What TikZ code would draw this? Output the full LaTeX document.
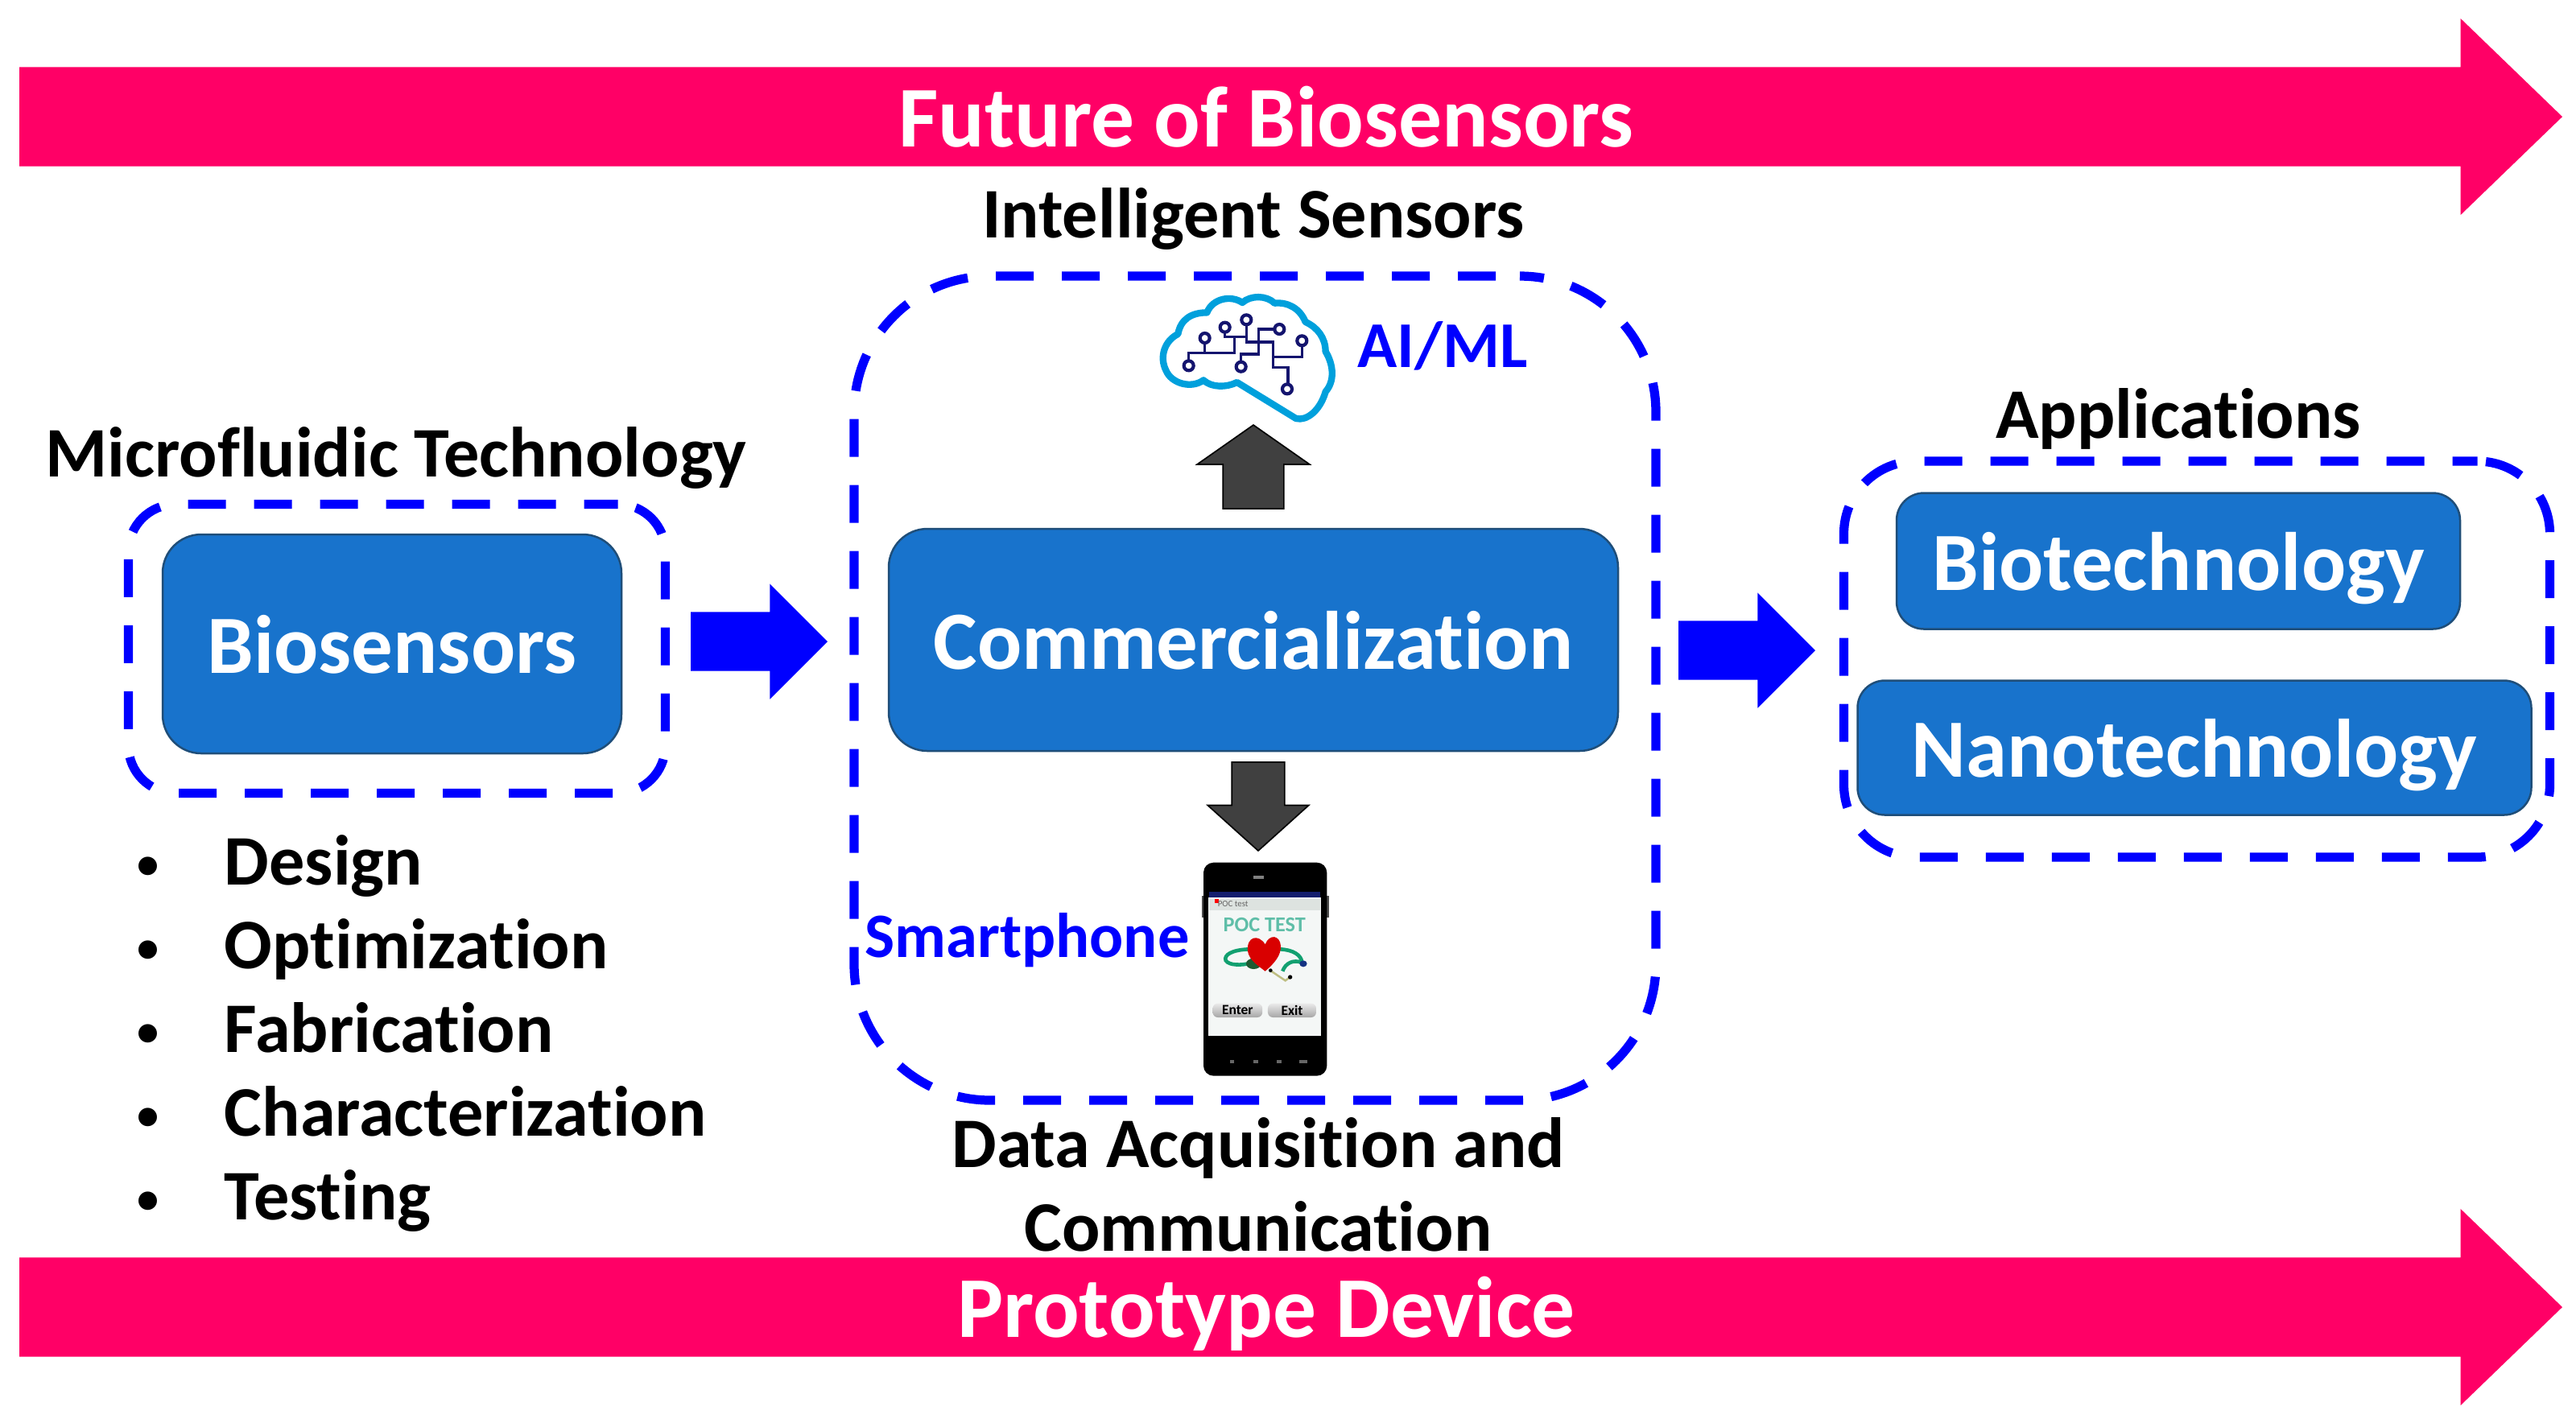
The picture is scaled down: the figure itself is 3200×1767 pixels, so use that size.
\documentclass[tikz,border=0pt]{standalone}
\usepackage{fontspec}
\setmainfont{Carlito}[Ligatures=CommonOff]
\usetikzlibrary{shapes.arrows}
\newcommand{\unitpx}{0.24pt}
\tikzset{every picture/.style={line width=0.75pt}}
\tikzset{
  pinkarrow/.style={single arrow,anchor=tail,fill={rgb, 255:red, 255; green, 0; blue, 102 },inner sep=60*\unitpx,outer sep=0pt,minimum width=241*\unitpx,single arrow head extend=60.5*\unitpx,single arrow tip angle=88},
  bluearrow/.style={single arrow,anchor=tail,fill={rgb, 255:red, 0; green, 0; blue, 255 },inner sep=35*\unitpx,outer sep=0pt,minimum width=140*\unitpx,minimum height=170*\unitpx,single arrow head extend=35*\unitpx,single arrow tip angle=90},
  grayarrow/.style={single arrow,anchor=tail,draw={rgb, 255:red, 0; green, 0; blue, 0 },fill={rgb, 255:red, 64; green, 64; blue, 64 },outer sep=0pt,line width=0.4pt},
  bluebox/.style={draw={rgb, 255:red, 31; green, 78; blue, 121 },fill={rgb, 255:red, 24; green, 115; blue, 204 },line width=0.6pt,inner sep=0pt,outer sep=0pt,text depth=0pt,text={rgb, 255:red, 255; green, 255; blue, 255 },font=\fontsize{24.7}{28}\selectfont\bfseries},
  groupbox/.style={draw={rgb, 255:red, 0; green, 0; blue, 255 },line width=2.7pt,inner sep=0pt,outer sep=0pt},
  headtext/.style={inner sep=0pt,font=\fontsize{21.2}{25}\selectfont\bfseries,align=center},
  bluetext/.style={inner sep=0pt,font=\fontsize{19.5}{25}\selectfont\bfseries,text={rgb, 255:red, 0; green, 0; blue, 255 }},
  listtext/.style={anchor=west,inner sep=0pt,text height=14pt,text depth=4pt,font=\fontsize{21.2}{25}\selectfont\bfseries},
  arrowtext/.style={inner sep=0pt,text depth=0pt,text={rgb, 255:red, 255; green, 255; blue, 255 },font=\fontsize{25.8}{28}\selectfont\bfseries},
  brainline/.style={draw={rgb, 255:red, 0; green, 160; blue, 220 },line width=2pt,line join=round},
  chipline/.style={draw={rgb, 255:red, 20; green, 20; blue, 110 },line width=0.8pt},
  chipdot/.style={draw={rgb, 255:red, 20; green, 20; blue, 110 },line width=1pt,fill=white}
}
\newcommand{\listdot}{\makebox[26pt][l]{\fontsize{13}{13}\selectfont\raisebox{2pt}{•}}}
\begin{document}
\begin{tikzpicture}[x=0.24pt,y=0.24pt,yscale=-1,xscale=1]
\useasboundingbox (0,0) rectangle (3200,1767);
%Shape: Right Arrow [top]
\node (futurearrow) [pinkarrow,minimum height=3159*\unitpx] at (24,145) {};
%Shape: Right Arrow [bottom]
\node (prototypearrow) [pinkarrow,minimum height=3159*\unitpx] at (24,1624) {};
%Rounded Rect: groups
\node (biogroup) [groupbox,rounded corners=59*\unitpx,dash pattern=on 47*\unitpx off 35*\unitpx,dash phase=5*\unitpx,minimum width=667*\unitpx,minimum height=359*\unitpx] at (493,806) {};
\node (sensorgroup) [groupbox,rounded corners=169*\unitpx,dash pattern=on 47*\unitpx off 35*\unitpx,dash phase=52*\unitpx,minimum width=996*\unitpx,minimum height=1024*\unitpx] at (1559,855) {};
\node (appgroup) [groupbox,rounded corners=90*\unitpx,dash pattern=on 47*\unitpx off 35*\unitpx,dash phase=16*\unitpx,minimum width=877*\unitpx,minimum height=492*\unitpx] at (2729,819) {};
%Rounded Rect: boxes
\node (biosensors) [bluebox,rounded corners=48*\unitpx,minimum width=570*\unitpx,minimum height=272*\unitpx] at (487,800) {Biosensors};
\node (commercial) [bluebox,rounded corners=48*\unitpx,minimum width=906*\unitpx,minimum height=276*\unitpx] at (1557,795) {Commercialization};
\node (biotech) [bluebox,rounded corners=34*\unitpx,minimum width=700*\unitpx,minimum height=169*\unitpx] at (2706,697) {Biotechnology};
\node (nanotech) [bluebox,rounded corners=34*\unitpx,minimum width=837*\unitpx,minimum height=167*\unitpx] at (2726,929) {Nanotechnology};
%Shape: Right Arrow [blue]
\node (bluearrowa) [bluearrow] at (858,797) {};
\node (bluearrowb) [bluearrow] at (2085,808) {};
%Shape: Up and Down Arrow [gray]
\node (upperarrow) [grayarrow,shape border rotate=90,inner sep=37*\unitpx,minimum width=134*\unitpx,minimum height=104*\unitpx,single arrow head extend=32*\unitpx,single arrow tip angle=110] at (1557,632) {};
\node (lowerarrow) [grayarrow,shape border rotate=270,inner sep=32*\unitpx,minimum width=124*\unitpx,minimum height=110*\unitpx,single arrow head extend=30*\unitpx,single arrow tip angle=96] at (1563,947) {};
%Brain
\begin{scope}[shift={(1380,340)},scale=0.3333]
\path [brainline] (470,405) -- (690,540) .. controls (730,550) and (780,510) .. (800,440) .. controls (835,400) and (830,340) .. (800,290) .. controls (800,240) and (770,200) .. (725,180) .. controls (705,130) and (660,105) .. (610,110) .. controls (580,80) and (520,80) .. (490,108) .. controls (450,80) and (380,90) .. (358,145) .. controls (300,145) and (260,170) .. (250,225) .. controls (200,250) and (180,310) .. (205,360) .. controls (225,410) and (300,430) .. (345,397) .. controls (375,425) and (430,425) .. (470,405) -- cycle;
\path [chipline] (290,343) -- (290,295) -- (460,295) -- (460,235) -- (425,235) -- (425,200);
\path [chipline] (350,240) -- (350,295);
\path [chipline] (505,172) -- (505,255) -- (605,255) -- (605,350) -- (660,350) -- (660,430);
\path [chipline] (460,235) -- (505,235);
\path [chipline] (628,207) -- (550,207) -- (550,300) -- (485,300) -- (485,347);
\path [chipline] (712,250) -- (712,310) -- (605,310);
\path [chipdot] (290,343) circle (18);
\path [chipdot] (350,240) circle (18);
\path [chipdot] (425,200) circle (18);
\path [chipdot] (505,172) circle (18);
\path [chipdot] (628,207) circle (18);
\path [chipdot] (712,250) circle (18);
\path [chipdot] (485,347) circle (18);
\path [chipdot] (657,430) circle (18);
\end{scope}
%Phone
\begin{scope}[shift={(1420,1040)},scale=0.3333]
\fill [black!70] (218,220) rectangle (692,300);
\fill [black,rounded corners=3pt] (225,95) rectangle (685,890);
\fill [fill={rgb, 255:red, 20; green, 30; blue, 110 }] (245,205) rectangle (660,225);
\fill [gray] (410,143) rectangle (450,155);
\fill [fill={rgb, 255:red, 244; green, 247; blue, 246 }] (243,225) rectangle (662,742);
\fill [fill={rgb, 255:red, 221; green, 227; blue, 224 }] (245,230) rectangle (660,272);
\fill [red] (268,232) rectangle (282,246);
\node (titlebar) [inner sep=0pt,text=black!60,font=\fontsize{2.6}{3}\selectfont] at (335,248) {POC test};
\node (poctest) [inner sep=0pt,text={rgb, 255:red, 95; green, 190; blue, 168 },font=\fontsize{6.3}{7}\selectfont\bfseries] at (452,328) {POC TEST};
\draw [line width=1.1pt,draw={rgb, 255:red, 18; green, 160; blue, 112 }] (395,418) .. controls (330,420) and (300,440) .. (308,460) .. controls (320,480) and (370,478) .. (400,470);
\draw [line width=1.1pt,draw={rgb, 255:red, 18; green, 160; blue, 112 }] (510,418) .. controls (560,420) and (590,440) .. (592,468) .. controls (560,455) and (530,470) .. (520,500);
\fill [fill={rgb, 255:red, 30; green, 90; blue, 50 }] (412,472) ellipse (28 and 20);
\fill [fill={rgb, 255:red, 20; green, 50; blue, 130 }] (597,472) ellipse (14 and 12);
\draw [line width=0.6pt,draw={rgb, 255:red, 190; green, 190; blue, 130 }] (478,500) -- (530,535) -- (548,522);
\fill [red!85!black] (455,400) .. controls (430,360) and (385,370) .. (390,425) .. controls (395,460) and (430,480) .. (455,500) .. controls (490,470) and (515,440) .. (513,405) .. controls (510,365) and (470,360) .. (455,400) -- cycle;
\fill [black] (475,497) circle (7);
\fill [black] (548,522) circle (8);
\node (enterbutton) [rounded corners=1.5pt,minimum width=185*0.08pt,minimum height=52*0.08pt,inner sep=0pt,top color=black!8,bottom color=black!35,font=\fontsize{4.2}{5}\selectfont\bfseries] at (352,646) {Enter};
\node (exitbutton) [rounded corners=1.5pt,minimum width=180*0.08pt,minimum height=52*0.08pt,inner sep=0pt,top color=black!8,bottom color=black!35,font=\fontsize{4.2}{5}\selectfont\bfseries] at (555,646) {Exit};
\fill [black!60] (325,832) rectangle (340,844);
\fill [black!60] (412,832) rectangle (430,844);
\fill [black!60] (497,832) rectangle (515,844);
\fill [black!60] (582,832) rectangle (612,844);
\end{scope}
% Text Node
\node (futuretext) [arrowtext] at (1573,145) {Future of Biosensors};
\node (prototypetext) [arrowtext] at (1573,1624) {Prototype Device};
\node (intelligent) [headtext] at (1557,272) {Intelligent Sensors};
\node (aiml) [bluetext] at (1792,430) {AI/ML};
\node (microfluidic) [headtext] at (492,569) {Microfluidic Technology};
\node (applications) [headtext] at (2706,520) {Applications};
\node (smartphone) [bluetext,font=\fontsize{18.85}{25}\selectfont\bfseries] at (1276,1168) {Smartphone};
\node (dataacq) [headtext] at (1563,1472) {Data Acquisition and\\Communication};
\node (design) [listtext] at (169,1079) {\listdot Design};
\node (optimization) [listtext] at (169,1183) {\listdot Optimization};
\node (fabrication) [listtext] at (169,1287) {\listdot Fabrication};
\node (characterization) [listtext] at (169,1391) {\listdot Characterization};
\node (testing) [listtext] at (169,1495) {\listdot Testing};
\end{tikzpicture}
\end{document}
